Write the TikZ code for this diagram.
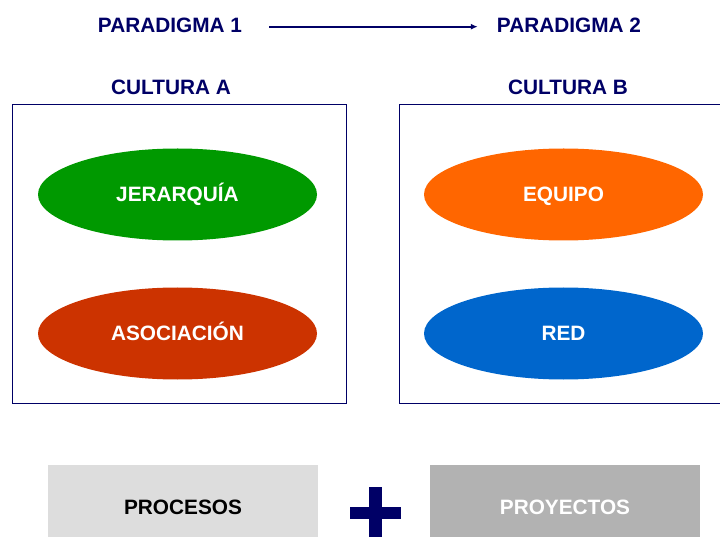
\documentclass[tikz,border=0pt]{standalone}
\usepackage{fontspec}
\setmainfont{Liberation Sans}
\usepackage{xcolor}
\usepackage{tikz}
\usetikzlibrary{shapes,arrows.meta,positioning}
\definecolor{culturenavy}{RGB}{0,0,102}
\definecolor{culturegreen}{RGB}{0,153,0}
\definecolor{culturered}{RGB}{204,51,0}
\definecolor{cultureorange}{RGB}{255,102,0}
\definecolor{cultureblue}{RGB}{0,102,204}
\definecolor{processgrey}{RGB}{221,221,221}
\definecolor{projectgrey}{RGB}{178,178,178}
\tikzset{
    heading/.style={text=culturenavy, font=\bfseries\fontsize{20.8}{25}\selectfont, inner sep=0pt, text height=14.9pt, text depth=0pt},
    value/.style={ellipse, fill=#1, text=white, font=\bfseries\fontsize{20.8}{25}\selectfont, minimum width=279, minimum height=92, inner sep=0pt, text height=14.9pt, text depth=0pt},
    frame/.style={rectangle, draw=culturenavy, line width=0.8pt, minimum width=334, minimum height=299},
    work/.style={rectangle, fill=#1, font=\bfseries\fontsize{20.8}{25}\selectfont, minimum width=270, minimum height=84, inner sep=0pt, text height=14.9pt, text depth=0pt},
    line/.style={draw=culturenavy, line width=1.8pt, -{Latex[length=7pt,width=6pt]}}
}

\begin{document}
\begin{tikzpicture}[x=1pt, y=-1pt]
    \useasboundingbox (0,0) rectangle (720,537);
    \clip (0,0) rectangle (720,537);

    % Paradigms
    \node [heading] (para1) at (170,25.5) {PARADIGMA 1};
    \node [heading] (para2) at (569,25.5) {PARADIGMA 2};
    \path [line, shorten <=27pt, shorten >=19pt] ([yshift=-1.2pt]para1.east) -- ([yshift=-1.2pt]para2.west);

    % Cultures
    \node [heading] (cultA) at (171,87.5) {CULTURA A};
    \node [heading] (cultB) at (568,87.5) {CULTURA B};
    \node [frame] (boxA) at (179.5,253.5) {};
    \node [frame] (boxB) at (566.5,253.5) {};

    % Values inside each culture
    \node [value=culturegreen] (jerarquia) at (177.5,194.5) {JERARQUÍA};
    \node [value=culturered] (asociacion) at (177.5,333.5) {ASOCIACIÓN};
    \node [value=cultureorange] (equipo) at (563.5,194.5) {EQUIPO};
    \node [value=cultureblue] (red) at (563.5,333.5) {RED};

    % Processes plus projects
    \node [work=processgrey, text=black] (procesos) at (183,507) {PROCESOS};
    \node [work=projectgrey, text=white] (proyectos) at (565,507) {PROYECTOS};
    \fill [culturenavy] (369,487) rectangle (382,545);
    \fill [culturenavy] (350,507) rectangle (401,519);
\end{tikzpicture}
\end{document}
